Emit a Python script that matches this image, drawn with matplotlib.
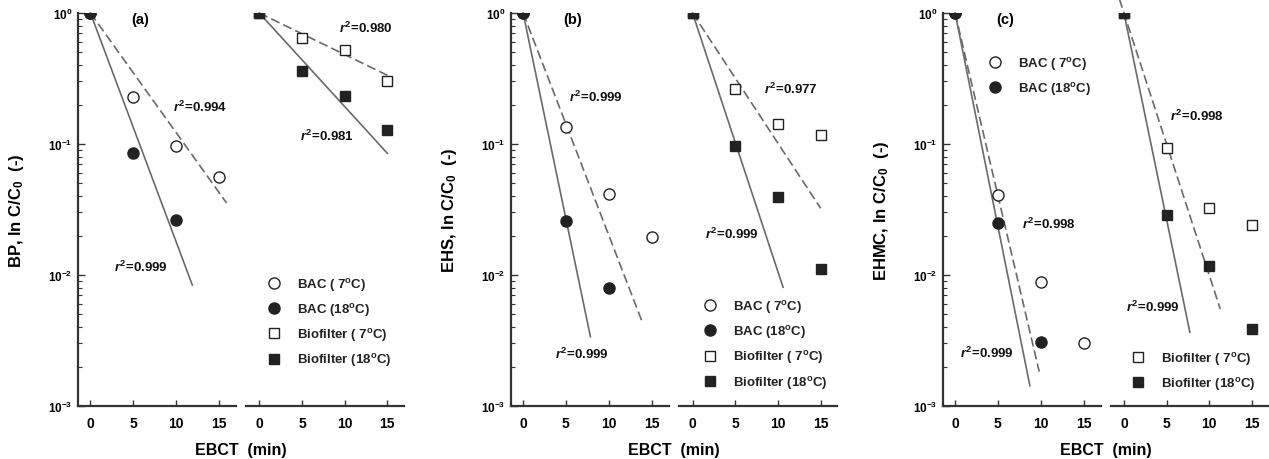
import numpy as np
import matplotlib.pyplot as plt
from matplotlib.lines import Line2D

plt.rcParams['font.family'] = 'Liberation Sans'
plt.rcParams['font.weight'] = 'bold'
plt.rcParams['axes.labelweight'] = 'bold'
plt.rcParams['mathtext.fontset'] = 'custom'
plt.rcParams['mathtext.rm'] = 'Liberation Sans:bold'
plt.rcParams['mathtext.it'] = 'Liberation Sans:italic:bold'
plt.rcParams['mathtext.bf'] = 'Liberation Sans:bold'
plt.rcParams['mathtext.default'] = 'rm'

ebct = [0, 5, 10, 15]
ebct_short = [0, 5, 10]

# (a) BP
bp_bac7 = [1.0, 0.227, 0.097, 0.0557]
bp_bac18 = [1.0, 0.085, 0.0264]
bp_bio7 = [1.0, 0.644, 0.525, 0.301]
bp_bio18 = [1.0, 0.363, 0.234, 0.129]
# fitted lines: log10 decay per min, last EBCT drawn
bp_k = [0.0912, 0.1745, 0.0317, 0.0714]
bp_xend = [15.9, 11.9, 15.1, 15.0]
bp_r2 = ['0.994', '0.999', '0.980', '0.981']

# (b) EHS
ehs_bac7 = [1.0, 0.134, 0.0415, 0.0195]
ehs_bac18 = [1.0, 0.026, 0.008]
ehs_bio7 = [1.0, 0.263, 0.143, 0.117]
ehs_bio18 = [1.0, 0.097, 0.0394, 0.0112]
ehs_k = [0.1696, 0.3144, 0.0994, 0.1975]
ehs_xend = [14.0, 7.86, 15.0, 10.6]
ehs_r2 = ['0.999', '0.999', '0.977', '0.999']

# (c) EHMC
ehmc_bac7 = [1.0, 0.0408, 0.0089, 0.003]
ehmc_bac18 = [1.0, 0.0249, 0.0031]
ehmc_bio7 = [1.0, 0.093, 0.0325, 0.024]
ehmc_bio18 = [1.0, 0.0287, 0.0118, 0.00387]
ehmc_k = [0.2788, 0.3259, 0.2004, 0.3157]
ehmc_xend = [9.82, 8.73, 11.28, 7.72]
ehmc_r2 = ['0.998', '0.999', '0.998', '0.999']

labels = ['BAC ( 7$^{\\rm o}$C)', 'BAC (18$^{\\rm o}$C)',
          'Biofilter ( 7$^{\\rm o}$C)', 'Biofilter (18$^{\\rm o}$C)']

W, H = 1269, 460
fig = plt.figure(figsize=(W / 100, H / 100), dpi=100)

dark = '#222222'
grey = '#6a6a6a'
mk = dict(linestyle='none', markeredgecolor=dark, markeredgewidth=1.0)
handles = [Line2D([], [], marker='o', markersize=8, markerfacecolor='white', **mk),
           Line2D([], [], marker='o', markersize=8, markerfacecolor=dark, **mk),
           Line2D([], [], marker='s', markersize=7, markerfacecolor='white', **mk),
           Line2D([], [], marker='s', markersize=7, markerfacecolor=dark, **mk)]


def make_axes(px_left, bac):
    ax = fig.add_axes([px_left / W, 1 - 407 / H, 158 / W, (407 - 14) / H])
    ax.set_yscale('log')
    ax.set_ylim(1e-3, 1.0)
    ax.set_xlim(-1.45, 17.0) if bac else ax.set_xlim(-1.55, 16.95)
    ax.set_xticks(ebct)
    ax.patch.set_alpha(0)
    for s in ['top', 'right']:
        ax.spines[s].set_visible(False)
    for s in ['left', 'bottom']:
        ax.spines[s].set_linewidth(1.6)
        ax.spines[s].set_color('#333333')
    ax.tick_params(axis='both', which='both', direction='in', color='#333333')
    ax.tick_params(axis='x', labelsize=10, length=4, width=1, pad=7)
    ax.tick_params(axis='y', which='major', labelsize=8.5, length=5, width=1, pad=4)
    ax.tick_params(axis='y', which='minor', length=3, width=0.8)
    if not bac:
        ax.spines['left'].set_visible(False)
        ax.tick_params(axis='y', which='both', left=False, labelleft=False)
    return ax


def fit_line(ax, k, xend, ls, x0=0.0):
    xs = np.array([x0, xend])
    line, = ax.plot(xs, 10 ** (-k * xs), color=grey, lw=1.2, zorder=1, clip_on=False)
    if ls == 'dashed':
        line.set_dashes((5.5, 2.5))


def r2(ax, x, y, val):
    ax.text(x, y, '$\\mathit{r}^{2}$=' + val, fontsize=9.5, ha='left', va='center', color='#111111')


def legend(ax, idx, px_x, px_y):
    fs = 9.5
    hl = 1.0
    left = px_x - hl * fs * 1.389 / 2
    lg = ax.legend([handles[i] for i in idx], [labels[i] for i in idx],
                   loc='upper left', bbox_to_anchor=(left / W, 1 - (px_y - 9) / H),
                   bbox_transform=fig.transFigure, frameon=False, fontsize=fs,
                   handlelength=hl, handletextpad=1.25, labelspacing=0.62,
                   borderpad=0, borderaxespad=0)
    for t in lg.get_texts():
        t.set_color('#222222')


def panel(px_l, px_r, ylab, letter, bac7, bac18, bio7, bio18, k, xend, xstart):
    a1 = make_axes(px_l, True)
    a2 = make_axes(px_r, False)
    a1.plot(ebct, bac7, marker='o', markersize=8, markerfacecolor='white', zorder=3, **mk)
    a1.plot(ebct_short, bac18, marker='o', markersize=8, markerfacecolor=dark, zorder=3, **mk)
    a2.plot(ebct, bio7, marker='s', markersize=7, markerfacecolor='white', zorder=3, **mk)
    a2.plot(ebct, bio18, marker='s', markersize=7, markerfacecolor=dark, zorder=3, **mk)
    fit_line(a1, k[0], xend[0], 'dashed', xstart[0])
    fit_line(a1, k[1], xend[1], 'solid', xstart[1])
    fit_line(a2, k[2], xend[2], 'dashed', xstart[2])
    fit_line(a2, k[3], xend[3], 'solid', xstart[3])
    a1.set_ylabel(ylab, fontsize=12)
    a1.yaxis.set_label_coords(-0.33, 0.5)
    a1.text(5.8, 0.9, letter, fontsize=10.5, ha='center', va='center')
    fig.text((px_l + px_r + 158) / 2 / W, 2 / H, 'EBCT  (min)',
             fontsize=11.5, ha='center', va='bottom')
    return a1, a2


a1, a2 = panel(78, 246, 'BP, ln C/C$_0$  (-)', '(a)', bp_bac7, bp_bac18, bp_bio7, bp_bio18,
               bp_k, bp_xend, [0, 0, 0, 0])
r2(a1, 9.6, 0.195, bp_r2[0])
r2(a1, 2.7, 0.0117, bp_r2[1])
r2(a2, 9.36, 0.78, bp_r2[2])
r2(a2, 4.8, 0.117, bp_r2[3])
legend(a2, [0, 1, 2, 3], 274, 285.7)

b1, b2 = panel(510.7, 679.3, 'EHS, ln C/C$_0$  (-)', '(b)', ehs_bac7, ehs_bac18, ehs_bio7, ehs_bio18,
               ehs_k, ehs_xend, [0, 0, 0, 0])
r2(b1, 5.4, 0.232, ehs_r2[0])
r2(b1, 3.7, 0.0025, ehs_r2[1])
r2(b2, 8.4, 0.268, ehs_r2[2])
r2(b2, 1.5, 0.0206, ehs_r2[3])
legend(b2, [0, 1, 2, 3], 710, 308)

c1, c2 = panel(942.7, 1110.7, 'EHMC, ln C/C$_0$  (-)', '(c)', ehmc_bac7, ehmc_bac18, ehmc_bio7, ehmc_bio18,
               ehmc_k, ehmc_xend, [0, 0, -0.55, 0])
r2(c1, 7.8, 0.0249, ehmc_r2[0])
r2(c1, 0.6, 0.00258, ehmc_r2[1])
r2(c2, 5.4, 0.164, ehmc_r2[2])
r2(c2, 0.25, 0.0058, ehmc_r2[3])
legend(c1, [0, 1], 995, 65)
legend(c2, [2, 3], 1137.7, 360)

fig.savefig('out.png', dpi=100)
